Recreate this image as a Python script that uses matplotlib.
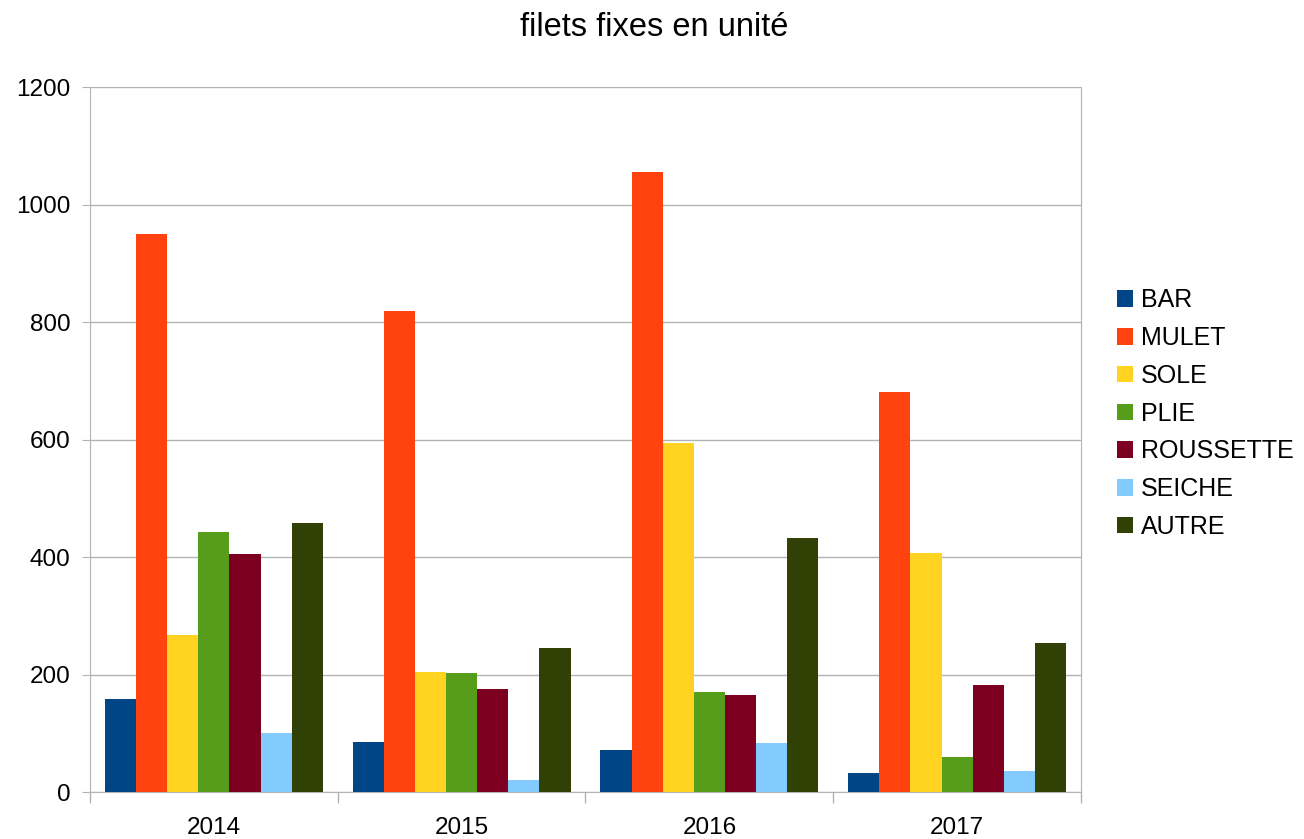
import matplotlib.pyplot as plt
import numpy as np

plt.rcParams['font.family'] = ['Liberation Sans', 'DejaVu Sans']

years = ['2014', '2015', '2016', '2017']
series = ['BAR', 'MULET', 'SOLE', 'PLIE', 'ROUSSETTE', 'SEICHE', 'AUTRE']
bar_v = [158, 85, 71, 32]
mulet = [950, 819, 1055, 681]
sole = [268, 205, 594, 407]
plie = [442, 202, 170, 59]
roussette = [405, 175, 166, 182]
seiche = [100, 20, 83, 35]
autre = [458, 246, 432, 254]
values = [bar_v, mulet, sole, plie, roussette, seiche, autre]
colors = ['#004586', '#ff420e', '#ffd320', '#579d1c', '#7e0021', '#83caff', '#314004']

fig = plt.figure(figsize=(13.04, 8.39), dpi=100)
ax = fig.add_axes([0.069, 0.056, 0.760, 0.840])

x = np.arange(len(years))
w = 0.88 / len(series)
for i, (name, vals) in enumerate(zip(series, values)):
    ax.bar(x - 0.44 + w * (i + 0.5), vals, w, color=colors[i], label=name, zorder=3)

ax.set_xlim(-0.5, 3.5)
ax.set_ylim(0, 1200)
ax.set_yticks(np.arange(0, 1201, 200))
ax.set_xticks(x)
ax.set_xticklabels(years)
ax.set_xticks(np.arange(-0.5, 3.6, 1), minor=True)
ax.tick_params(axis='x', which='major', length=0, labelsize=17.5, pad=18)
ax.tick_params(axis='x', which='minor', length=8, color='#b3b3b3', width=1)
ax.tick_params(axis='y', length=6, color='#b3b3b3', labelsize=17.5, pad=8)
ax.grid(axis='y', color='#b3b3b3', linewidth=1, zorder=0)
for s in ['left', 'bottom', 'right']:
    ax.spines[s].set_color('#b3b3b3')
ax.spines['top'].set_visible(False)

fig.text(0.502, 0.967, 'filets fixes en unité', fontsize=23.5, ha='center', va='center')
fig.legend(loc='center left', bbox_to_anchor=(0.8395, 0.507), frameon=False,
           fontsize=18, handlelength=0.65, handleheight=0.65, labelspacing=0.55,
           handletextpad=0.3)

fig.savefig('out.png', dpi=100)
